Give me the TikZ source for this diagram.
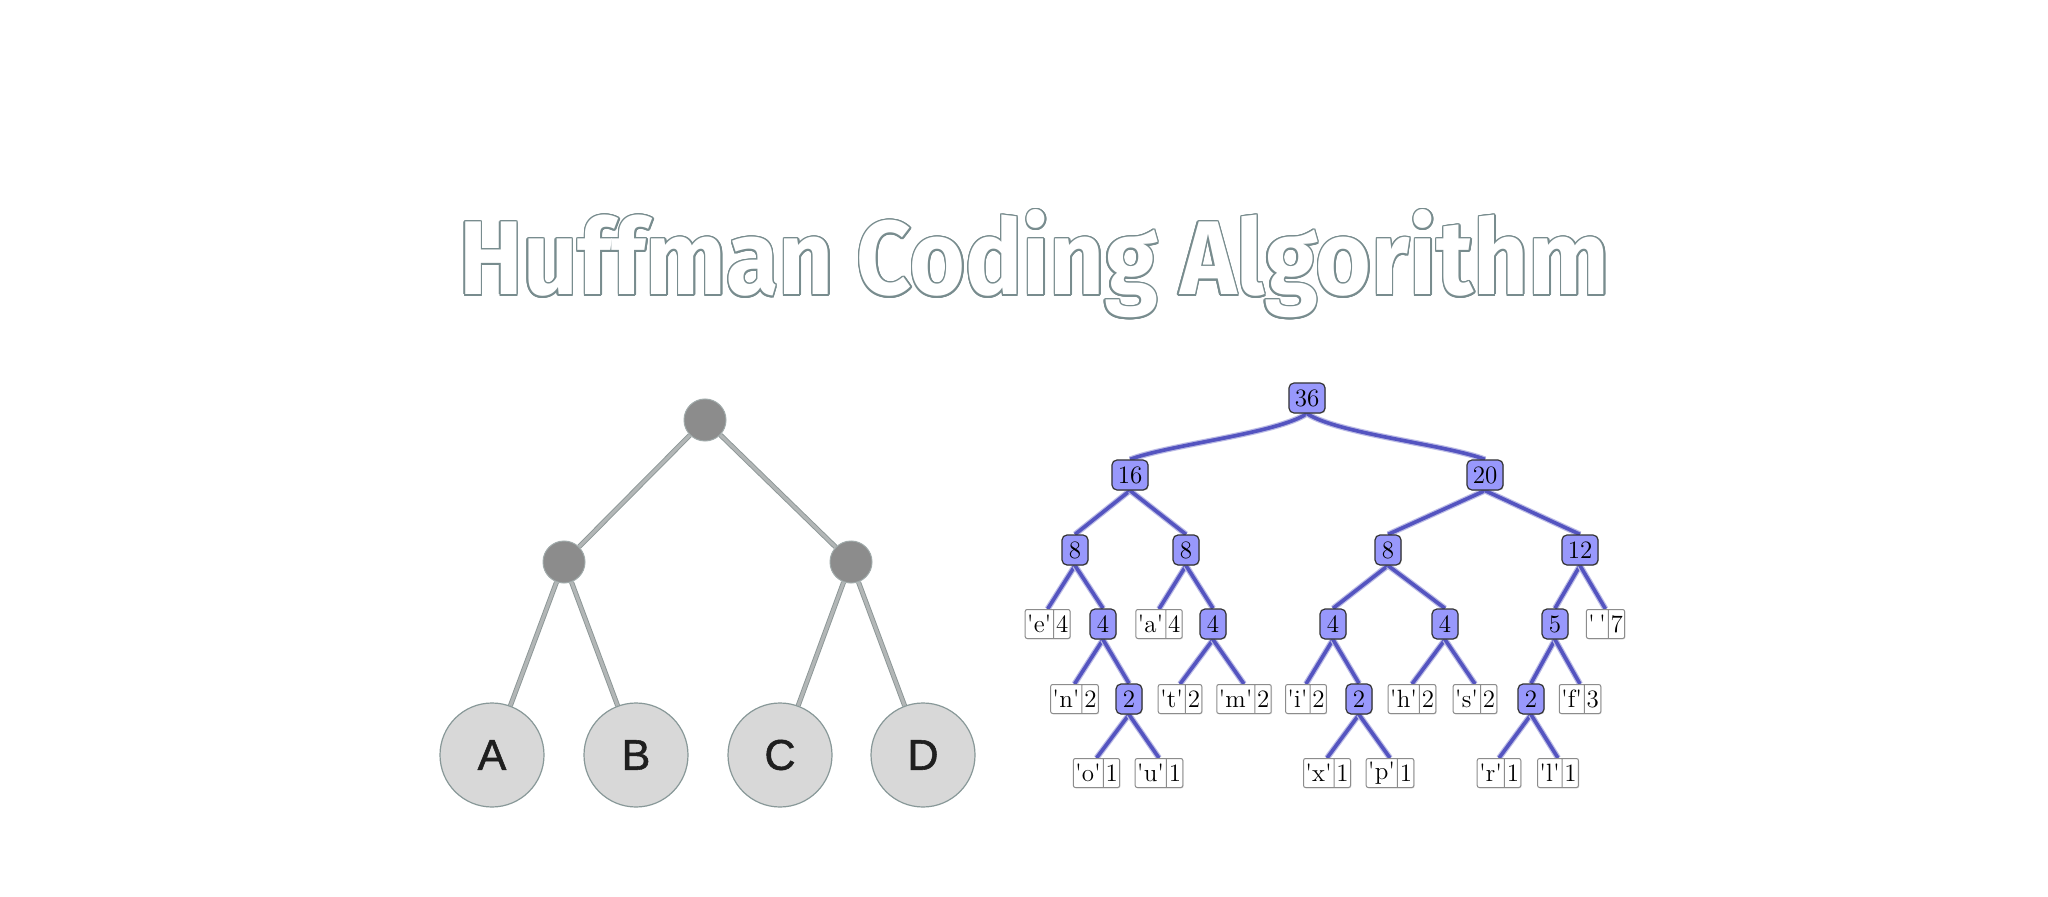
\documentclass[tikz,border=0pt]{standalone}
\usepackage{fontspec}
\newfontfamily\titlefont{Fira Sans}
\newfontfamily\letterfont{Liberation Sans}[FakeBold=1.3]
\usepackage{contour}
\usetikzlibrary{shapes.multipart,shadows,backgrounds}
\definecolor{hblue}{RGB}{84,84,192}
\definecolor{nodefill}{RGB}{152,152,252}
\definecolor{leafgray}{RGB}{216,216,216}
\definecolor{leafborder}{RGB}{136,152,152}
\definecolor{darkdot}{RGB}{140,140,140}
\definecolor{dotborder}{RGB}{160,170,170}
\definecolor{ledgedark}{RGB}{140,150,150}
\definecolor{ledgelight}{RGB}{178,182,182}
\definecolor{titlegray}{RGB}{120,140,142}
\newcommand\sq{\XeTeXglyph\XeTeXcharglyph"27\relax}
\contourlength{0.9pt}
\tikzset{
  inode/.style={rectangle, rounded corners=2.5pt, fill=nodefill, draw=black!80,
    line width=0.6pt, minimum height=15pt, minimum width=13pt, inner xsep=2.9pt,
    inner ysep=0pt, font=\fontsize{12.5}{14}\selectfont,
    drop shadow={opacity=0.3, shadow xshift=0.4pt, shadow yshift=-0.4pt}},
  lnode/.style={rectangle split, rectangle split horizontal, rectangle split parts=2,
    draw=black!45, fill=white, rounded corners=1pt, minimum height=14.5pt,
    inner xsep=0.9pt, inner ysep=0pt, line width=0.5pt,
    font=\fontsize{12.5}{14}\selectfont,
    drop shadow={opacity=0.25, shadow xshift=0.4pt, shadow yshift=-0.4pt}},
  hedge/.style={draw=hblue, line width=1.8pt, preaction={draw=hblue!40, line width=3pt}},
  ldot/.style={circle, minimum size=21pt, inner sep=0pt, fill=darkdot, draw=dotborder, line width=0.5pt},
  lleaf/.style={circle, minimum size=52pt, inner sep=0pt, fill=leafgray, draw=leafborder,
    line width=0.6pt, font=\letterfont\fontsize{21.5}{24}\selectfont, text=black!88},
  ledge/.style={draw=ledgedark, double=ledgelight, double distance=1.6pt, line width=0.45pt},
}
\begin{document}
\begin{tikzpicture}[x=0.5pt, y=-0.5pt]
\useasboundingbox (0,0) rectangle (2048,897);
% title
\node[anchor=base west, inner sep=0pt] (title) at (459,295)
  {\resizebox{575pt}{42.5pt}{\color{white}\contour{titlegray}{\titlefont\bfseries\fontsize{60}{60}\selectfont Huffman Coding Algorithm}}};
% left tree
\node[ldot] (r) at (705,420) {};
\node[ldot] (m1) at (564,562) {};
\node[ldot] (m2) at (851,562) {};
\node[lleaf] (A) at (492,755) {A};
\node[lleaf] (B) at (636,755) {B};
\node[lleaf] (C) at (780,755) {C};
\node[lleaf] (D) at (923,755) {D};
% huffman tree: internal nodes
\node[inode] (n36) at (1307,398) {36};
\node[inode] (n16) at (1130,475) {16};
\node[inode] (n20) at (1485,475) {20};
\node[inode] (n8a) at (1075,550) {8};
\node[inode] (n8b) at (1186,550) {8};
\node[inode] (n8c) at (1388,550) {8};
\node[inode] (n12) at (1580,550) {12};
\node[inode] (n4a) at (1103,624) {4};
\node[inode] (n4b) at (1213,624) {4};
\node[inode] (n4c) at (1333,624) {4};
\node[inode] (n4d) at (1445,624) {4};
\node[inode] (n5) at (1555,624) {5};
\node[inode] (n2a) at (1129,699) {2};
\node[inode] (n2b) at (1359,699) {2};
\node[inode] (n2c) at (1531,699) {2};
% leaves
\node[lnode] (le) at (1047.6,624) {\sq e\sq\nodepart{two}4};
\node[lnode] (la) at (1159,624) {\sq a\sq\nodepart{two}4};
\node[lnode] (lsp) at (1605.5,624) {\sq\,\sq\nodepart{two}7};
\node[lnode] (ln) at (1074.5,699) {\sq n\sq\nodepart{two}2};
\node[lnode] (lt) at (1180,699) {\sq t\sq\nodepart{two}2};
\node[lnode] (lm) at (1244,699) {\sq m\sq\nodepart{two}2};
\node[lnode] (li) at (1306,699) {\sq i\sq\nodepart{two}2};
\node[lnode] (lh) at (1412,699) {\sq h\sq\nodepart{two}2};
\node[lnode] (ls) at (1475,699) {\sq s\sq\nodepart{two}2};
\node[lnode] (lf) at (1580,699) {\sq f\sq\nodepart{two}3};
\node[lnode] (lo) at (1096.5,773) {\sq o\sq\nodepart{two}1};
\node[lnode] (lu) at (1159,773) {\sq u\sq\nodepart{two}1};
\node[lnode] (lx) at (1327,773) {\sq x\sq\nodepart{two}1};
\node[lnode] (lp) at (1390,773) {\sq p\sq\nodepart{two}1};
\node[lnode] (lr) at (1499,773) {\sq r\sq\nodepart{two}1};
\node[lnode] (ll) at (1558,773) {\sq l\sq\nodepart{two}1};
\begin{scope}[on background layer]
  \fill[white] (0,0) rectangle (2048,897);
  % left tree edges
  \draw[ledge] (r) -- (m1);
  \draw[ledge] (r) -- (m2);
  \draw[ledge] (m1) -- (A);
  \draw[ledge] (m1) -- (B);
  \draw[ledge] (m2) -- (C);
  \draw[ledge] (m2) -- (D);
  % huffman edges
  \draw[hedge] (n36.south) .. controls +(-30,20) and +(40,-15) .. (n16.north);
  \draw[hedge] (n36.south) .. controls +(30,20) and +(-40,-15) .. (n20.north);
  \draw[hedge] (n16.south) -- (n8a.north);
  \draw[hedge] (n16.south) -- (n8b.north);
  \draw[hedge] (n20.south) -- (n8c.north);
  \draw[hedge] (n20.south) -- (n12.north);
  \draw[hedge] (n8a.south) -- (le.north);
  \draw[hedge] (n8a.south) -- (n4a.north);
  \draw[hedge] (n8b.south) -- (la.north);
  \draw[hedge] (n8b.south) -- (n4b.north);
  \draw[hedge] (n8c.south) -- (n4c.north);
  \draw[hedge] (n8c.south) -- (n4d.north);
  \draw[hedge] (n12.south) -- (n5.north);
  \draw[hedge] (n12.south) -- (lsp.north);
  \draw[hedge] (n4a.south) -- (ln.north);
  \draw[hedge] (n4a.south) -- (n2a.north);
  \draw[hedge] (n4b.south) -- (lt.north);
  \draw[hedge] (n4b.south) -- (lm.north);
  \draw[hedge] (n4c.south) -- (li.north);
  \draw[hedge] (n4c.south) -- (n2b.north);
  \draw[hedge] (n4d.south) -- (lh.north);
  \draw[hedge] (n4d.south) -- (ls.north);
  \draw[hedge] (n5.south) -- (n2c.north);
  \draw[hedge] (n5.south) -- (lf.north);
  \draw[hedge] (n2a.south) -- (lo.north);
  \draw[hedge] (n2a.south) -- (lu.north);
  \draw[hedge] (n2b.south) -- (lx.north);
  \draw[hedge] (n2b.south) -- (lp.north);
  \draw[hedge] (n2c.south) -- (lr.north);
  \draw[hedge] (n2c.south) -- (ll.north);
\end{scope}
\end{tikzpicture}
\end{document}
